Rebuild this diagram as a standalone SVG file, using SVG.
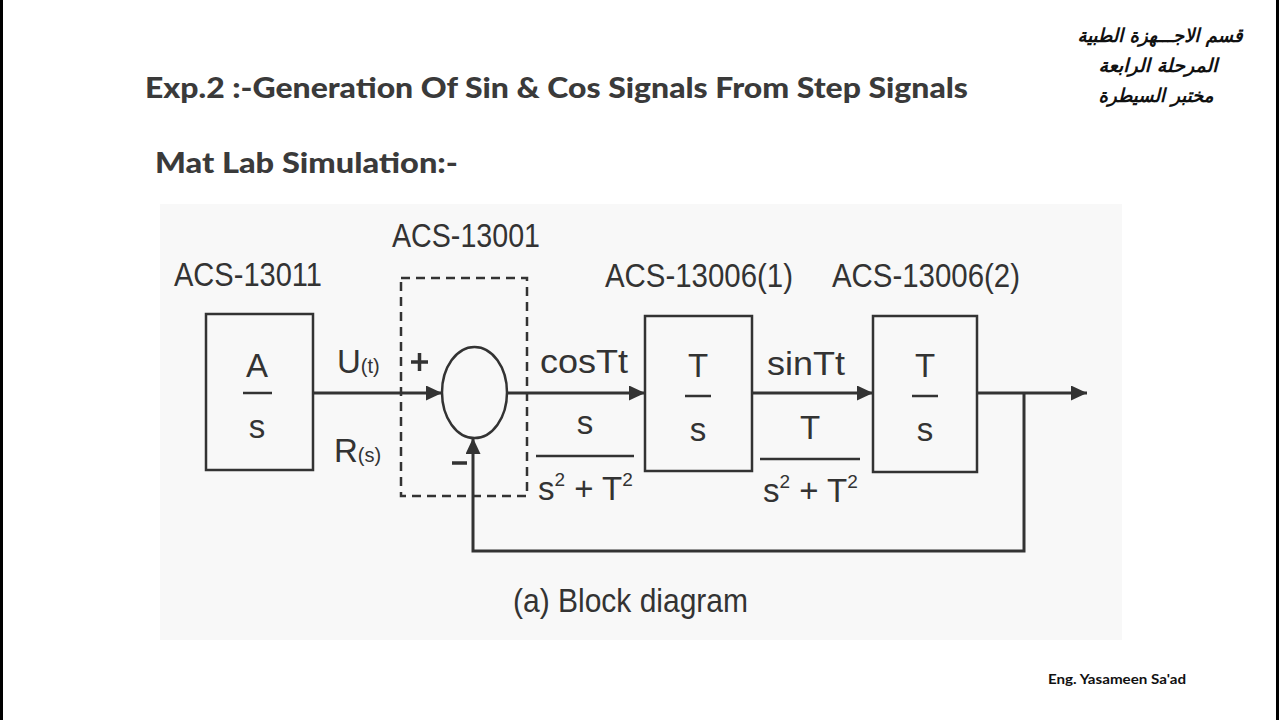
<svg xmlns="http://www.w3.org/2000/svg" width="1280" height="720" viewBox="0 0 1280 720">
<style>
.t{font-family:"Liberation Sans",Arial,sans-serif;fill:#333;}
.hd{font-family:"Lato","Open Sans",sans-serif;font-weight:900;fill:#3a3a3a;}
.ar{font-family:"DejaVu Sans",sans-serif;font-weight:bold;font-style:italic;fill:#111;}
.ln{stroke:#333;stroke-width:3;fill:none;}
.bx{stroke:#333;stroke-width:2.5;fill:none;}
</style>
<defs>
<marker id="ah" viewBox="0 0 10 10" refX="10" refY="5" markerWidth="16" markerHeight="15" markerUnits="userSpaceOnUse" orient="auto" preserveAspectRatio="none">
<path d="M0,0 L10,5 L0,10 Z" fill="#333"/>
</marker>
</defs>
<rect x="0" y="0" width="1280" height="720" fill="#ffffff"/>
<line x1="1.5" y1="0" x2="1.5" y2="720" stroke="#000" stroke-width="3"/>
<line x1="1277.5" y1="0" x2="1277.5" y2="720" stroke="#000" stroke-width="3"/>
<rect x="160" y="204" width="962" height="436" fill="#f8f8f8"/>

<g id="header">
<text class="hd" x="145" y="98" font-size="28" textLength="823" lengthAdjust="spacingAndGlyphs">Exp.2 :-Generation Of Sin &amp; Cos  Signals From Step Signals</text>
<text class="hd" x="155" y="173" font-size="28" textLength="303" lengthAdjust="spacingAndGlyphs">Mat Lab Simulation:-</text>
<text class="ar" x="1160" y="42" font-size="19" text-anchor="middle" direction="rtl" textLength="165" lengthAdjust="spacingAndGlyphs">قسم الاجـــهزة الطبية</text>
<text class="ar" x="1158" y="72" font-size="19" text-anchor="middle" direction="rtl" textLength="119" lengthAdjust="spacingAndGlyphs">المرحلة الرابعة</text>
<text class="ar" x="1156" y="102" font-size="19" text-anchor="middle" direction="rtl" textLength="115" lengthAdjust="spacingAndGlyphs">مختبر السيطرة</text>
<text x="1048" y="684" font-family="Lato,'Open Sans',sans-serif" font-weight="bold" font-size="13" fill="#111" textLength="138" lengthAdjust="spacingAndGlyphs">Eng. Yasameen Sa'ad</text>
</g>

<g id="connectors">
<line class="ln" x1="313" y1="393" x2="442" y2="393" marker-end="url(#ah)"/>
<line class="ln" x1="507" y1="393" x2="645" y2="393" marker-end="url(#ah)"/>
<line class="ln" x1="752" y1="393" x2="873" y2="393" marker-end="url(#ah)"/>
<line class="ln" x1="977" y1="393" x2="1087" y2="393" marker-end="url(#ah)"/>
<polyline class="ln" points="1024,393 1024,551 473,551 473,438" marker-end="url(#ah)"/>
</g>

<g id="block-acs13011">
<text class="t" x="174" y="286" font-size="33" textLength="148" lengthAdjust="spacingAndGlyphs">ACS-13011</text>
<rect class="bx" x="206" y="314" width="107" height="156"/>
<text class="t" x="257" y="377" font-size="33" text-anchor="middle">A</text>
<line class="bx" x1="243" y1="393" x2="272" y2="393"/>
<text class="t" x="257" y="438" font-size="33" text-anchor="middle">s</text>
</g>

<g id="labels-input">
<text class="t" x="337" y="373" font-size="33">U<tspan font-size="20">(t)</tspan></text>
<text class="t" x="334" y="462" font-size="33">R<tspan font-size="20">(s)</tspan></text>
</g>

<g id="block-acs13001">
<text class="t" x="392" y="247" font-size="33" textLength="148" lengthAdjust="spacingAndGlyphs">ACS-13001</text>
<rect x="401" y="278" width="126" height="218" fill="none" stroke="#333" stroke-width="2.5" stroke-dasharray="9,6"/>
<ellipse class="bx" cx="474.5" cy="392.5" rx="32.5" ry="45.5"/>
<path d="M411,362 H428 M419.5,353 V371" stroke="#333" stroke-width="3.5" fill="none"/>
<line x1="452" y1="463" x2="467" y2="463" stroke="#333" stroke-width="3.5"/>
</g>

<g id="label-cos">
<text class="t" x="540" y="373" font-size="33" textLength="88" lengthAdjust="spacingAndGlyphs">cosTt</text>
<text class="t" x="585" y="434" font-size="33" text-anchor="middle">s</text>
<line class="bx" x1="536" y1="456" x2="634" y2="456"/>
<text class="t" x="538" y="500" font-size="33">s<tspan font-size="19" dy="-14">2</tspan><tspan dy="14"> + T</tspan><tspan font-size="19" dy="-14">2</tspan></text>
</g>

<g id="block-acs13006-1">
<text class="t" x="605" y="287" font-size="33" textLength="188" lengthAdjust="spacingAndGlyphs">ACS-13006(1)</text>
<rect class="bx" x="645" y="316" width="107" height="155"/>
<text class="t" x="698" y="377" font-size="33" text-anchor="middle">T</text>
<line class="bx" x1="685" y1="396" x2="711" y2="396"/>
<text class="t" x="698" y="441" font-size="33" text-anchor="middle">s</text>
</g>

<g id="label-sin">
<text class="t" x="767" y="375" font-size="33" textLength="78" lengthAdjust="spacingAndGlyphs">sinTt</text>
<text class="t" x="810" y="439" font-size="33" text-anchor="middle">T</text>
<line class="bx" x1="760" y1="459" x2="860" y2="459"/>
<text class="t" x="763" y="502" font-size="33">s<tspan font-size="19" dy="-14">2</tspan><tspan dy="14"> + T</tspan><tspan font-size="19" dy="-14">2</tspan></text>
</g>

<g id="block-acs13006-2">
<text class="t" x="832" y="287" font-size="33" textLength="188" lengthAdjust="spacingAndGlyphs">ACS-13006(2)</text>
<rect class="bx" x="873" y="316" width="104" height="156"/>
<text class="t" x="925" y="377" font-size="33" text-anchor="middle">T</text>
<line class="bx" x1="912" y1="396" x2="938" y2="396"/>
<text class="t" x="925" y="441" font-size="33" text-anchor="middle">s</text>
</g>

<g id="caption">
<text class="t" x="513" y="612" font-size="33" textLength="235" lengthAdjust="spacingAndGlyphs">(a) Block diagram</text>
</g>
</svg>
